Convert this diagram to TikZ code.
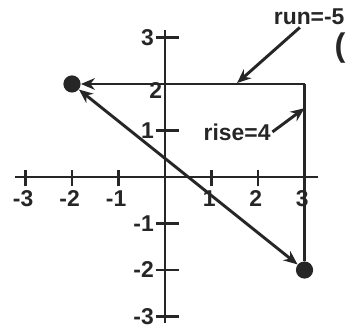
\documentclass[tikz,border=0pt]{standalone}
\usepackage{fontspec}
\setmainfont{Liberation Sans}
\usetikzlibrary{arrows.meta, positioning}

\begin{document}
\begin{tikzpicture}[scale=1.0,
    axis/.style={line width=1.8pt, black!85},
    seg/.style={line width=1.8pt, black!85},
    tip/.style={-{Stealth[length=0.3cm, width=0.25cm]}},
    dot/.style={circle, fill=black!85, inner sep=0pt, minimum size=0.37cm},
    lbl/.style={font=\fontsize{14}{16}\selectfont\bfseries, text=black!85, inner sep=1pt}]
  \useasboundingbox (-3.548,-3.269) rectangle (3.892,3.806);
  % axes
  \draw[axis] (-3.23,0) -- (3.29,0);
  \draw[axis] (0,-3.14) -- (0,3.16);
  % ticks and labels on x
  \foreach \x in {-3,-2,-1,1,2,3} {
    \draw[axis] (\x,-0.2) -- (\x,0.15);
    \node[lbl, anchor=north] (x\x) at (\x-0.05,-0.25) {\x};
  }
  % ticks and labels on y
  \foreach \y in {-3,-2,-1,1,3} {
    \draw[axis] (-0.2,\y) -- (0.3,\y);
    \node[lbl, anchor=east] (y\y) at (-0.2,\y) {\y};
  }
  \node[lbl, anchor=east] (y2) at (-0.02,1.85) {2};
  % the two points and the corner
  \node[dot] (A) at (-2,2) {};
  \node[dot] (B) at (3,-2) {};
  \coordinate (C) at (3,2);
  % run and rise
  \draw[seg, tip] (C) -- (A);
  \draw[seg] (C) -- (B);
  \draw[seg, {Stealth[length=0.3cm, width=0.25cm]}-{Stealth[length=0.3cm, width=0.25cm]}] (A) -- (B);
  % labels with pointers
  \node[lbl] (run) at (3.1,3.45) {run=-5};
  \coordinate (runpt) at (1.55,2.02);
  \draw[seg, tip] (run.south) ++(-0.2,-0.02) -- (runpt);
  \node[lbl] (rise) at (1.55,0.97) {rise=4};
  \coordinate (risept) at (3.0,1.48);
  \draw[seg, tip] (rise.east) -- (risept);
  \node[font=\fontsize{20}{22}\selectfont\bfseries, anchor=east, inner sep=0pt, text=black!85] (paren) at (3.89,2.78) {(};
\end{tikzpicture}
\end{document}
